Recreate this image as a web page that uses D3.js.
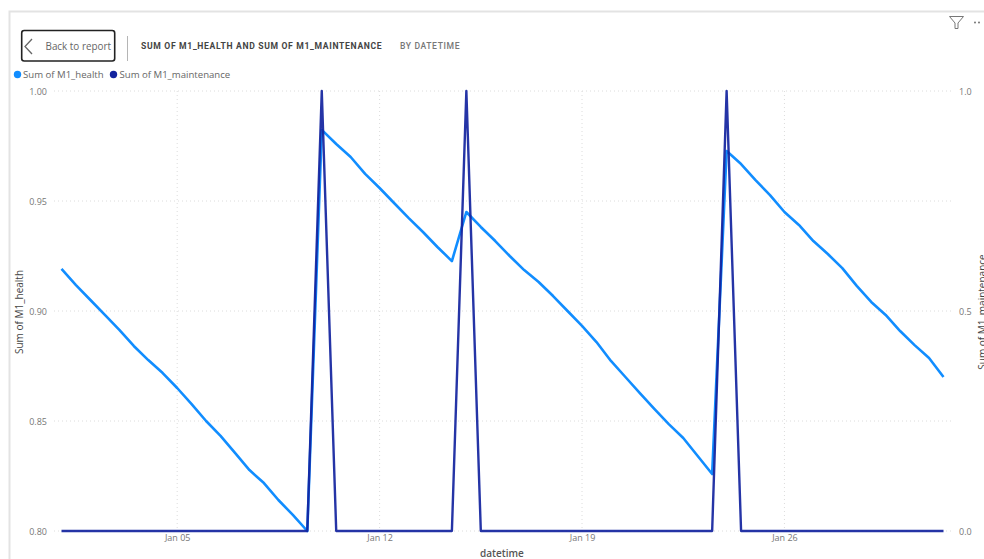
<!DOCTYPE html>
<html><head><meta charset="utf-8">
<script src="https://cdn.jsdelivr.net/npm/d3@7/dist/d3.min.js"></script>
<style>
html,body{margin:0;padding:0;background:#fff;overflow:hidden}
text{font-family:"Open Sans","Noto Sans",sans-serif}
</style></head><body><svg id="c" width="984" height="559"></svg>
<script>
const healthValues=[.9191,.9118,.9050,.8982,.8914,.8841,.8777,.8718,.8650,.8577,.8500,.8432,.8355,.8277,.8218,.8141,.8073,.8000,
.9823,.9759,.9700,.9623,.9559,.9491,.9423,.9359,.9291,.9227,
.9450,.9382,.9318,.9250,.9186,.9132,.9068,.9000,.8932,.8859,.8773,.8700,.8627,.8555,.8486,.8423,.8341,.8259,
.9727,.9668,.9595,.9527,.9450,.9391,.9318,.9259,.9195,.9114,.9041,.8982,.8909,.8845,.8786,.8700];
const maintenanceValues=[0,0,0,0,0,0,0,0,0,0,0,0,0,0,0,0,0,0,
1,0,0,0,0,0,0,0,0,0,
1,0,0,0,0,0,0,0,0,0,0,0,0,0,0,0,0,0,
1,0,0,0,0,0,0,0,0,0,0,0,0,0,0,0];
const startDate="2023-01-01T00:00:00Z";
const dateTicks=["2023-01-05","2023-01-12","2023-01-19","2023-01-26"];
const leftTicks=[0.80,0.85,0.90,0.95,1.00];
const rightTicks=[0,0.5,1];
const seriesNames=["Sum of M1_health","Sum of M1_maintenance"];
const seriesColors=["#118DFF","#12239E"];

const start=new Date(startDate);
const dates=healthValues.map((_,i)=>d3.utcHour.offset(start,12*i));
const svg=d3.select("#c");
const m={l:61.5,r:943.5,t:91,b:531};
const x=d3.scaleUtc().domain([dates[0],dates[dates.length-1]]).range([m.l,m.r]);
const yL=d3.scaleLinear().domain([0.8,1]).range([m.b,m.t]);
const yR=d3.scaleLinear().domain([0,1]).range([m.b,m.t]);

// frame
svg.append("path").attr("d","M9.5,559V11.5H984").attr("fill","none").attr("stroke","#e3e3e3").attr("stroke-width",2);

// back button
svg.append("rect").attr("x",21.7).attr("y",30.5).attr("width",93).attr("height",30.5).attr("rx",2.5)
 .attr("fill","#fff").attr("stroke","#222").attr("stroke-width",1.6);
svg.append("path").attr("d","M32,39L25,46.5L32,54").attr("fill","none").attr("stroke","#666").attr("stroke-width",1.3);
svg.append("text").attr("x",45.5).attr("y",50).attr("font-size",9.9).attr("fill","#666").text("Back to report");
svg.append("line").attr("x1",127.5).attr("x2",127.5).attr("y1",36).attr("y2",61).attr("stroke","#b5b5b5");

// title
svg.append("text").attr("x",141).attr("y",49).attr("font-size",8.6).attr("font-weight",700).attr("letter-spacing",0.67)
 .style("font-family","Roboto").attr("fill","#444").text("SUM OF M1_HEALTH AND SUM OF M1_MAINTENANCE");
svg.append("text").attr("x",400).attr("y",49).attr("font-size",8.6).attr("font-weight",500).attr("letter-spacing",0.6)
 .style("font-family","Roboto").attr("fill","#777").text("BY DATETIME");

// filter + more
svg.append("path").attr("d","M949.5,16.5H963.5L958,23V28.5H955V23Z").attr("fill","none").attr("stroke","#777").attr("stroke-width",1);
svg.append("g").selectAll("circle").data([975,979]).join("circle").attr("cx",d=>d).attr("cy",22.5).attr("r",0.9).attr("fill","#666");

// legend
const legendX=[17.5,113.5],legendTextX=[23,119.5];
seriesNames.forEach((n,i)=>{
 svg.append("circle").attr("cx",legendX[i]).attr("cy",74.5).attr("r",3.7).attr("fill",seriesColors[i]);
 svg.append("text").attr("x",legendTextX[i]).attr("y",78).attr("font-size",9.6).attr("fill","#666").text(n);
});

// grid
const grid=svg.append("g").attr("stroke","#dcdcdc").attr("stroke-width",1).attr("stroke-dasharray","1 3");
leftTicks.forEach(t=>grid.append("line").attr("x1",54).attr("x2",952).attr("y1",yL(t)).attr("y2",yL(t)));
dateTicks.forEach(t=>{const v=x(new Date(t+"T00:00:00Z"));grid.append("line").attr("x1",v).attr("x2",v).attr("y1",m.t).attr("y2",m.b);});

// axes
function style(g){g.select(".domain").remove();g.selectAll("line").remove();g.selectAll("text").attr("fill","#777").attr("font-size",9).style("font-family",'"Open Sans"');}
svg.append("g").attr("transform",`translate(47,1)`).call(d3.axisLeft(yL).tickValues(leftTicks).tickFormat(d3.format(".2f")).tickSize(0).tickPadding(0)).call(style);
svg.append("g").attr("transform",`translate(959,1)`).call(d3.axisRight(yR).tickValues(rightTicks).tickFormat(d3.format(".1f")).tickSize(0).tickPadding(0)).call(style);
svg.append("g").attr("transform",`translate(0,535)`).call(d3.axisBottom(x).tickValues(dateTicks.map(t=>new Date(t+"T00:00:00Z"))).tickFormat(d3.utcFormat("%b %d")).tickSize(0).tickPadding(0)).call(style);

svg.append("text").attr("transform","translate(22.5,312) rotate(-90)").attr("text-anchor","middle").attr("font-size",10).attr("fill","#444").text("Sum of M1_health");
svg.append("text").attr("transform","translate(986,312) rotate(-90)").attr("text-anchor","middle").attr("font-size",10).attr("fill","#444").text("Sum of M1_maintenance");
svg.append("text").attr("x",502).attr("y",557).attr("text-anchor","middle").attr("font-size",10).attr("font-weight",600).attr("fill","#555").text("datetime");

// lines
svg.append("path").attr("d",d3.line().x((d,i)=>x(dates[i])).y(d=>yL(d))(healthValues)).attr("fill","none").attr("stroke",seriesColors[0]).attr("stroke-width",2.6).attr("stroke-linejoin","round");
svg.append("path").attr("d",d3.line().x((d,i)=>x(dates[i])).y(d=>yR(d))(maintenanceValues)).attr("fill","none").attr("stroke",seriesColors[1]).attr("stroke-width",2.4).attr("stroke-linejoin","round").attr("stroke-opacity",0.92);
</script></body></html>
